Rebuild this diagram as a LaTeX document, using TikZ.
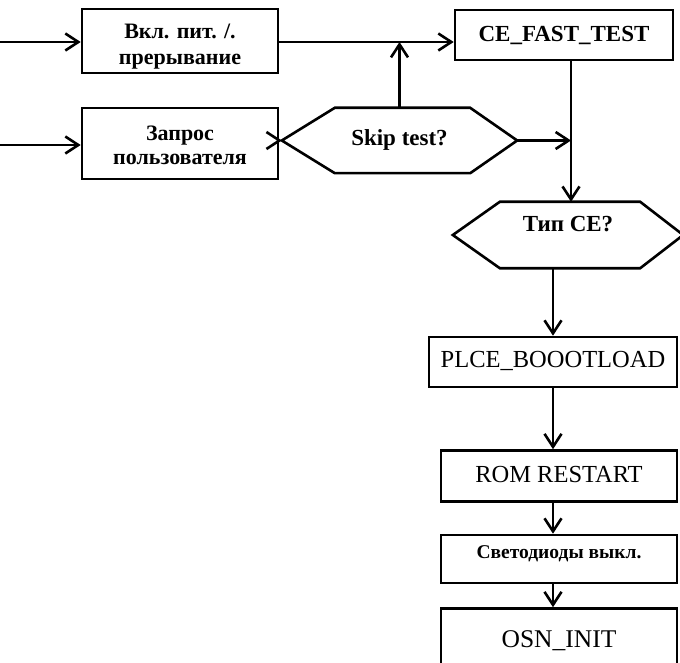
\documentclass[tikz,border=0pt]{standalone}
\usepackage{fontspec}
\setmainfont{Liberation Serif}
\usetikzlibrary{arrows.meta,calc}

% place text with its baseline at (node centre - #1), taking no vertical room
\newcommand\lift[2]{\raisebox{#1}[0pt][0pt]{#2}}
\newcommand\twolines[3]{\raisebox{#1}[0pt][0pt]{\begin{tabular}[t]{@{}c@{}}#2\\#3\end{tabular}}}

\tikzset{
  flow/.style={line width=2.6pt, -{Straight Barb[length=13pt,width=17pt,line width=2.6pt]}},
  plain/.style={line width=2.6pt, line join=miter},
  stepbox/.style={draw, line width=2.6pt, rectangle, inner sep=0pt, align=center},
  hexnode/.style={inner sep=0pt, align=center},
  bigb/.style={font=\fontsize{23}{27}\selectfont\bfseries},
  bigr/.style={font=\fontsize{24.5}{29}\selectfont},
}

\begin{document}
\begin{tikzpicture}[x=1pt,y=-1pt]
\useasboundingbox (0,0) rectangle (680,663);
\clip (0,0) rectangle (680,663);
\fill[white] (0,0) rectangle (680,663);

% left column: entry points
\node[stepbox, font=\fontsize{22}{26}\selectfont\bfseries, minimum width=196pt, minimum height=64pt] (pwr) at (180,41)
  {\twolines{2pt}{Вкл. пит. /.}{прерывание}};
\node[stepbox, font=\fontsize{22}{24}\selectfont\bfseries, minimum width=196pt, minimum height=71pt] (req) at (180,143.5)
  {\twolines{3pt}{Запрос}{пользователя}};

% decision: skip test?
\node[hexnode, bigb, minimum width=235pt, minimum height=65pt] (skip) at (399.5,140.5) {\lift{-5pt}{Skip test?}};
\draw[plain] (skip.west) -- ([xshift=53pt]skip.north west) -- ([xshift=-47pt]skip.north east)
  -- (skip.east) -- ([xshift=-47pt]skip.south east) -- ([xshift=53pt]skip.south west) -- cycle;

% fast test
\node[stepbox, bigb, minimum width=218pt, minimum height=50pt] (ce) at (564,35) {\lift{-7pt}{CE\_FAST\_TEST}};
\coordinate (cedown) at ([xshift=7pt]ce.south);

% decision: CE type
\node[hexnode, bigb, minimum width=230pt, minimum height=66pt] (tip) at (568,235) {\lift{3pt}{Тип CE?}};
\draw[plain] (tip.west) -- ([xshift=47pt]tip.north west) -- ([xshift=-43pt]tip.north east)
  -- (tip.east) -- ([xshift=-43pt]tip.south east) -- ([xshift=47pt]tip.south west) -- cycle;

% boot chain
\node[stepbox, bigr, minimum width=248pt, minimum height=50pt] (plce) at (553,362) {\lift{-5pt}{PLCE\_BOOOTLOAD}};
\node[stepbox, bigr, minimum width=236pt, minimum height=51pt] (rom) at (559,476) {\lift{-6pt}{ROM RESTART}};
\node[stepbox, font=\fontsize{19.5}{23}\selectfont\bfseries, minimum width=236pt, minimum height=48pt] (led) at (559,559) {\lift{1pt}{Светодиоды выкл.}};
\node[stepbox, font=\fontsize{25.5}{30}\selectfont, minimum width=236pt, minimum height=73pt] (osn) at (559,645) {\lift{-2pt}{OSN\_INIT}};

% inputs
\coordinate (in1) at (0,42);
\coordinate (in2) at (0,145);
\draw[flow] (in1) -- (in1 -| pwr.west);
\draw[flow] (in2) -- (in2 -| req.west);

% connectors
\draw[flow] (pwr.east |- in1) -- (in1 -| ce.west);
\draw[flow] (skip.north) -- (skip.north |- in1);
\draw[flow] (req.east |- skip.west) -- (skip.west);
\draw[flow] (skip.east) -- (skip.east -| cedown);
\draw[flow] (cedown) -- (cedown |- tip.north);
\draw[flow] (tip.south -| plce.north) -- (plce.north);
\draw[flow] (plce.south) -- (plce.south |- rom.north);
\draw[flow] (plce.south |- rom.south) -- (plce.south |- led.north);
\draw[flow] (plce.south |- led.south) -- (plce.south |- osn.north);
\end{tikzpicture}
\end{document}
